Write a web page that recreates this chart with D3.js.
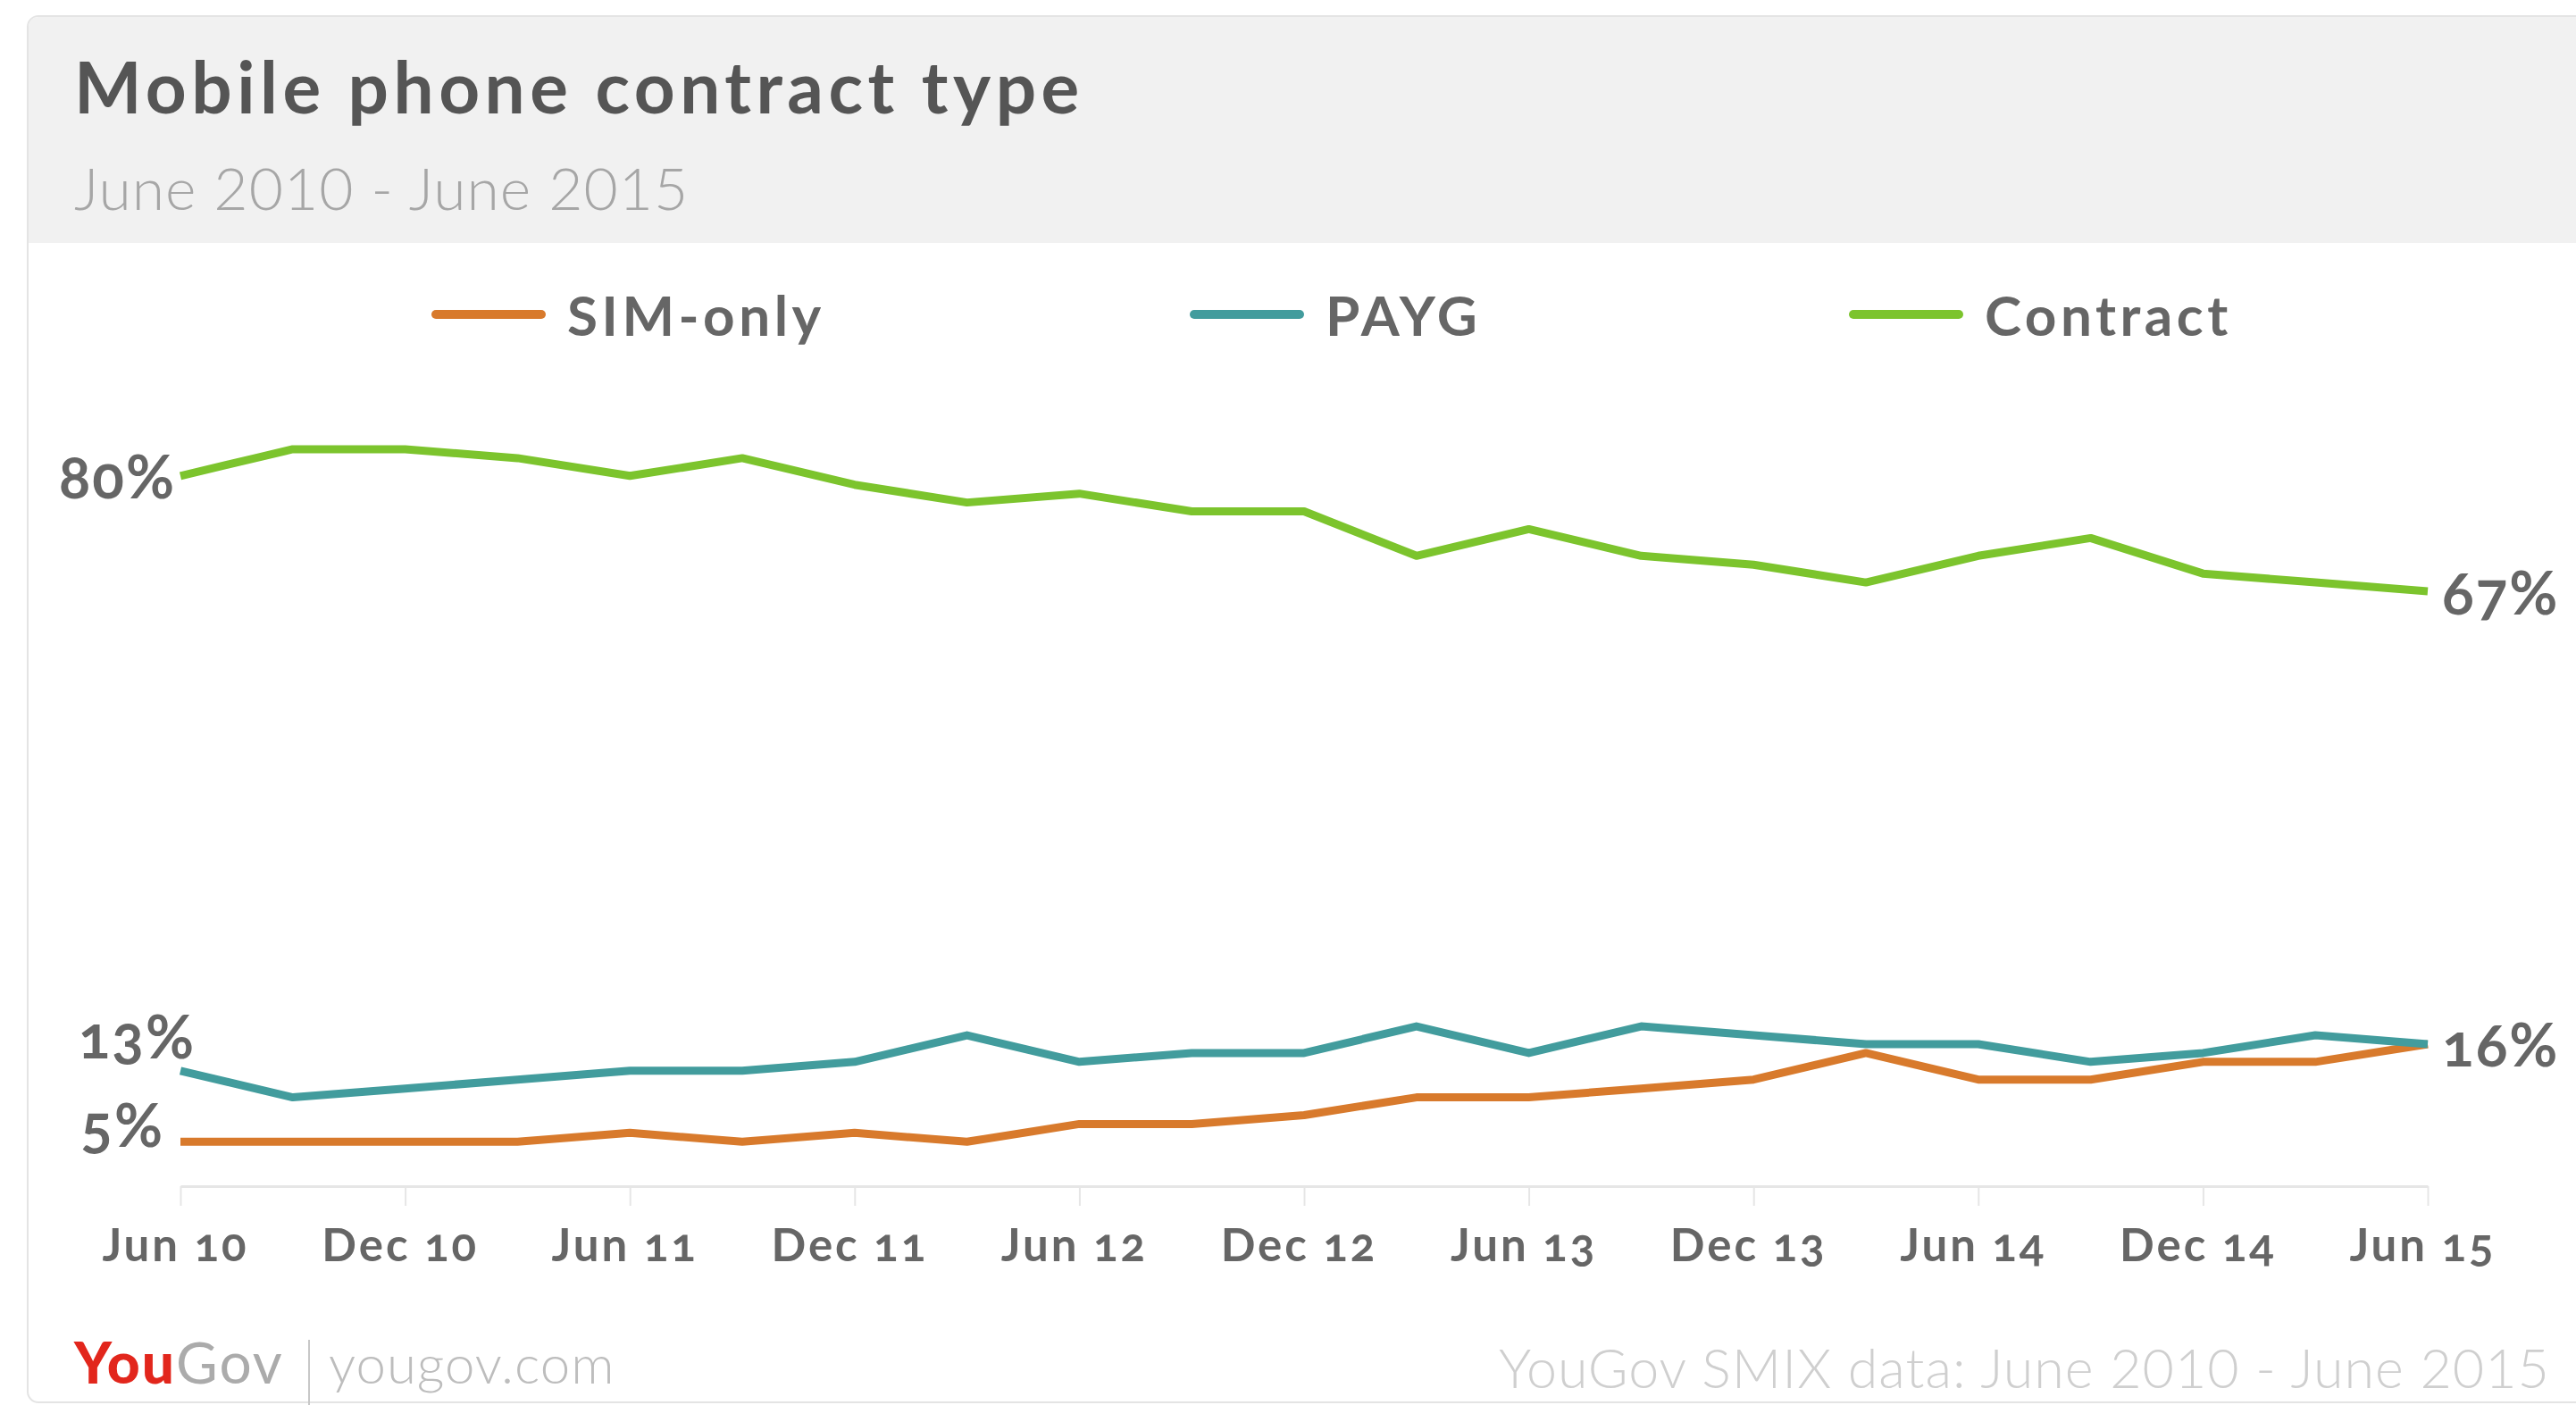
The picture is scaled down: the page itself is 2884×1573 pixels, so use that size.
<!DOCTYPE html>
<html lang="en">
<head>
    <meta charset="UTF-8">
    <title>Mobile phone contract type</title>
    <script src="https://d3js.org/d3.v7.min.js"></script>
    <style>
        body {
            margin: 0;
            background: #fff;
        }
        svg text {
            font-family: Lato, "Open Sans", sans-serif;
        }
        .axis path,
        .axis line {
            stroke: #e6e6e6;
        }
        .axis text {
            fill: #666;
            font-size: 51px;
            font-weight: 700;
            letter-spacing: 3px;
            font-variant-numeric: oldstyle-nums;
        }
        .end-label {
            fill: #666;
            font-size: 66px;
            font-weight: 700;
            letter-spacing: 2px;
            font-variant-numeric: oldstyle-nums;
        }
        .legend text {
            fill: #666;
            font-size: 62px;
            font-weight: 700;
            letter-spacing: 4.5px;
        }
    </style>
</head>
<body>
    <svg width="2884" height="1573"></svg>

    <script>
        // quarterly readings, June 2010 to June 2015
        const periods = ["2010-06", "2010-09", "2010-12", "2011-03", "2011-06", "2011-09", "2011-12",
                         "2012-03", "2012-06", "2012-09", "2012-12", "2013-03", "2013-06", "2013-09",
                         "2013-12", "2014-03", "2014-06", "2014-09", "2014-12", "2015-03", "2015-06"];
        const simOnly  = [5, 5, 5, 5, 6, 5, 6, 5, 7, 7, 8, 10, 10, 11, 12, 15, 12, 12, 14, 14, 16];
        const payg     = [13, 10, 11, 12, 13, 13, 14, 17, 14, 15, 15, 18, 15, 18, 17, 16, 16, 14, 15, 17, 16];
        const contract = [80, 83, 83, 82, 80, 82, 79, 77, 78, 76, 76, 71, 74, 71, 70, 68, 71, 73, 69, 68, 67];
        const seriesNames  = ["SIM-only", "PAYG", "Contract"];
        const seriesColors = ["#d87a2c", "#429c9d", "#7cc42d"];
        const tickPeriods  = ["2010-06", "2010-12", "2011-06", "2011-12", "2012-06", "2012-12",
                              "2013-06", "2013-12", "2014-06", "2014-12", "2015-06"];

        const svg = d3.select("svg");
        const width = +svg.attr("width");
        const height = +svg.attr("height");

        const parseMonth = d3.timeParse("%Y-%m");
        const fmtTick = d3.timeFormat("%b %y");

        // card + grey header
        svg.append("rect")
            .attr("x", 31).attr("y", 18)
            .attr("width", width + 40).attr("height", height - 21)
            .attr("rx", 12)
            .attr("fill", "#fff")
            .attr("stroke", "#e4e4e4")
            .attr("stroke-width", 2);
        svg.append("path")
            .attr("d", `M32,31 Q32,19 44,19 L${width},19 L${width},272 L32,272 Z`)
            .attr("fill", "#f1f1f1");

        svg.append("text")
            .attr("x", 83).attr("y", 127)
            .attr("fill", "#555")
            .style("font-size", "80px")
            .style("font-weight", 700)
            .style("letter-spacing", "5.5px")
            .text("Mobile phone contract type");

        svg.append("text")
            .attr("x", 83).attr("y", 235)
            .attr("fill", "#a6a6a6")
            .style("font-size", "66px")
            .style("font-weight", 300)
            .style("letter-spacing", "1px")
            .text("June 2010 - June 2015");

        const x = d3.scalePoint()
            .domain(periods)
            .range([202, 2718]);

        const y = d3.scaleLinear()
            .domain([0, 100])
            .range([1328, 334]);

        // x axis
        const xAxis = svg.append("g")
            .attr("class", "axis")
            .attr("transform", `translate(0,${y(0)})`)
            .call(d3.axisBottom(x)
                .tickValues(tickPeriods)
                .tickSizeInner(22)
                .tickSizeOuter(0)
                .tickPadding(26)
                .tickFormat(p => fmtTick(parseMonth(p))));
        xAxis.select(".domain").attr("stroke-width", 3);
        xAxis.selectAll(".tick line").attr("stroke-width", 2);
        xAxis.selectAll(".tick text").attr("font-family", null).attr("dx", -6);

        const series = seriesNames.map((name, i) => ({
            name: name,
            color: seriesColors[i],
            values: [simOnly, payg, contract][i]
        }));

        const line = d3.line()
            .x((d, i) => x(periods[i]))
            .y(d => y(d));

        svg.append("g")
            .selectAll("path")
            .data(series)
            .enter().append("path")
            .attr("d", d => line(d.values))
            .attr("fill", "none")
            .attr("stroke", d => d.color)
            .attr("stroke-width", 9)
            .attr("stroke-linejoin", "round");

        // start / end value labels
        const first = periods[0], last = periods[periods.length - 1];
        const startLabels = [
            { s: series[2], dx: -5,  dy: 0,   base: "central" },
            { s: series[1], dx: 17,  dy: -14, base: "alphabetic" },
            { s: series[0], dx: -18, dy: 6,   base: "alphabetic" }
        ];
        svg.append("g")
            .selectAll("text")
            .data(startLabels)
            .enter().append("text")
            .attr("class", "end-label")
            .attr("x", d => x(first) + d.dx)
            .attr("y", d => y(d.s.values[0]) + d.dy)
            .attr("text-anchor", "end")
            .attr("dominant-baseline", d => d.base)
            .text(d => d.s.values[0] + "%");

        svg.append("g")
            .selectAll("text")
            .data([series[2], series[1]])
            .enter().append("text")
            .attr("class", "end-label")
            .attr("x", x(last) + 16)
            .attr("y", d => y(d.values[d.values.length - 1]))
            .attr("dominant-baseline", "central")
            .text(d => d.values[d.values.length - 1] + "%");

        // legend
        const legendX = [484, 1333, 2071];
        const legend = svg.append("g")
            .attr("class", "legend")
            .selectAll("g")
            .data(series)
            .enter().append("g")
            .attr("transform", (d, i) => `translate(${legendX[i]},352)`);
        legend.append("line")
            .attr("x1", 4).attr("x2", 122)
            .attr("stroke", d => d.color)
            .attr("stroke-width", 10)
            .attr("stroke-linecap", "round");
        legend.append("text")
            .attr("x", 151)
            .attr("dominant-baseline", "central")
            .text(d => d.name);

        // footer
        const logo = svg.append("text")
            .attr("x", 83).attr("y", 1549)
            .style("font-size", "64px")
            .style("letter-spacing", "2px");
        logo.append("tspan").attr("fill", "#e2261c").style("font-weight", 900).text("You");
        logo.append("tspan").attr("fill", "#ababab").style("font-weight", 400).text("Gov");

        svg.append("line")
            .attr("x1", 346).attr("x2", 346)
            .attr("y1", 1500).attr("y2", 1573)
            .attr("stroke", "#c8c8c8")
            .attr("stroke-width", 2);

        svg.append("text")
            .attr("x", 368).attr("y", 1549)
            .attr("fill", "#bdbdbd")
            .style("font-size", "60px")
            .style("font-weight", 300)
            .style("letter-spacing", "1px")
            .text("yougov.com");

        svg.append("text")
            .attr("x", 2855).attr("y", 1554)
            .attr("text-anchor", "end")
            .attr("fill", "#cfcfcf")
            .style("font-size", "61px")
            .style("font-weight", 300)
            .style("letter-spacing", "1px")
            .text("YouGov SMIX data: June 2010 - June 2015");
    </script>
</body>
</html>
